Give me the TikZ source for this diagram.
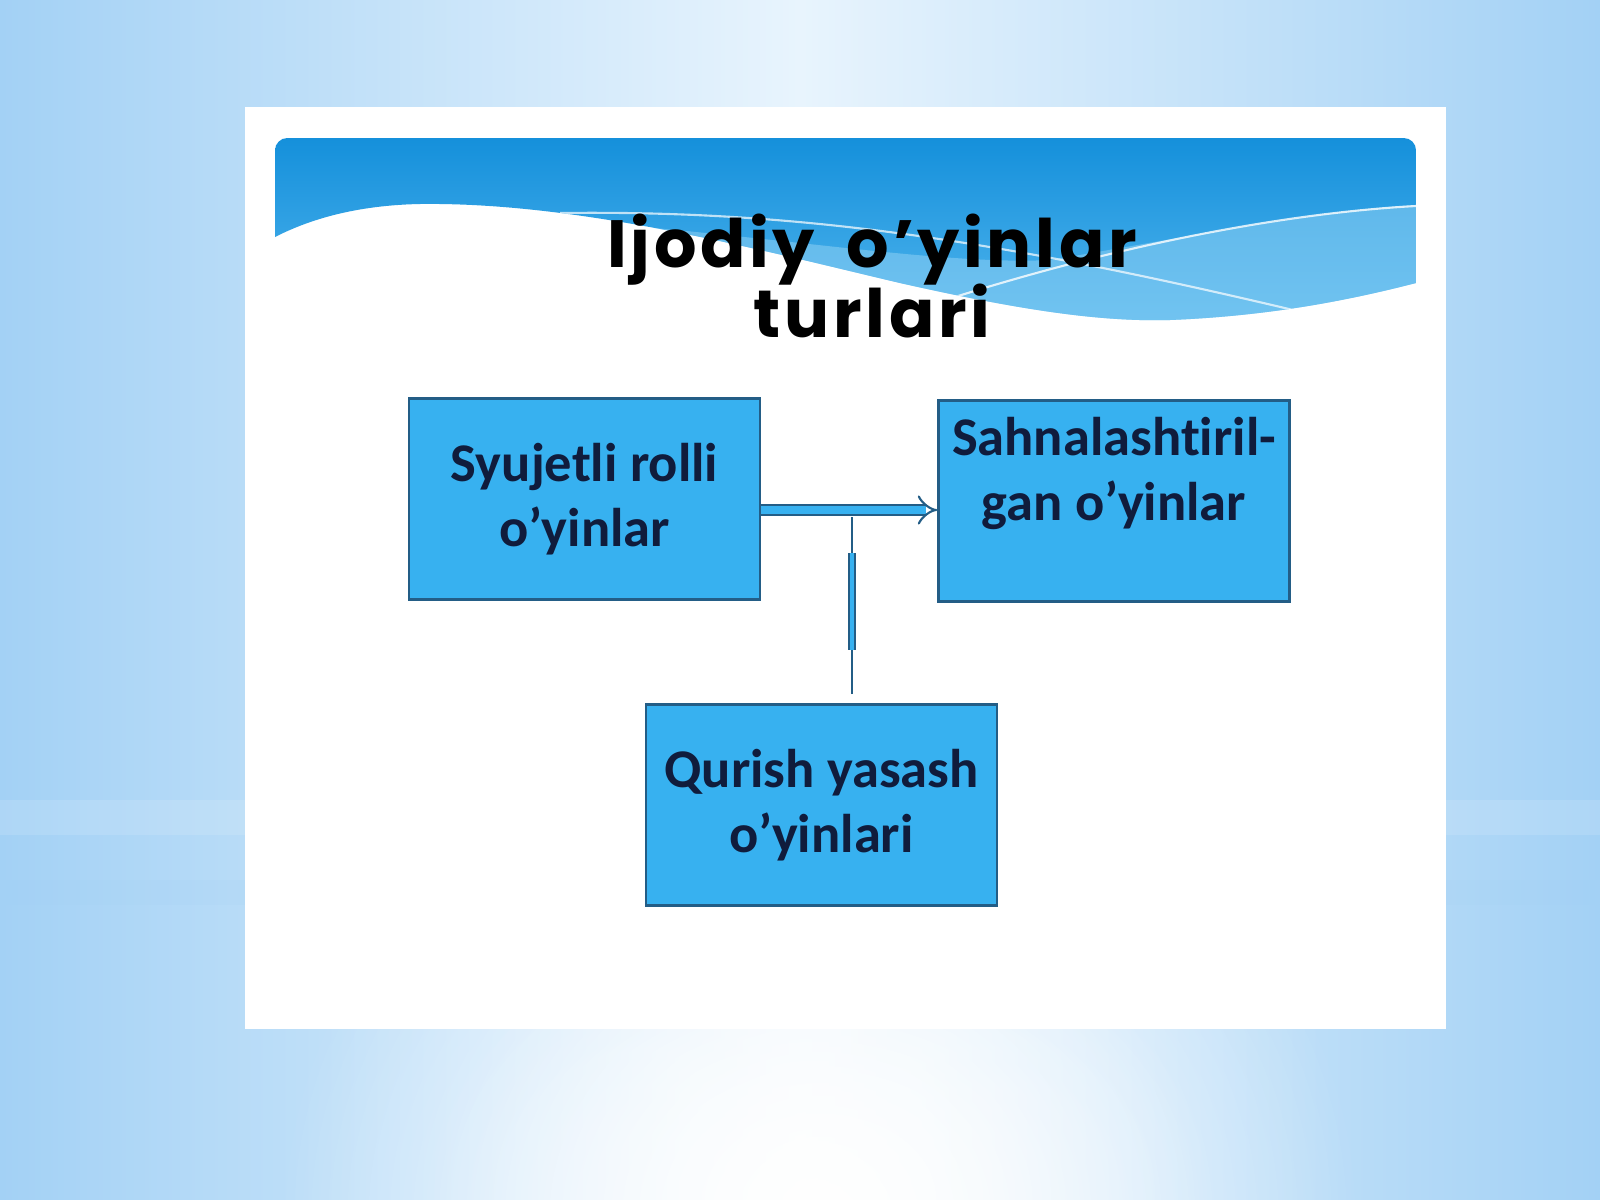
\documentclass[tikz,border=0pt]{standalone}
\usepackage{fontspec}
\setmainfont{Carlito}[RawFeature=-liga]
\newfontfamily\titlefont{Poppins}[LetterSpace=5.5]
\usetikzlibrary{arrows.meta,fadings,calc}
\definecolor{bgedge}{HTML}{A3D1F5}
\definecolor{bgmid}{HTML}{E8F4FD}
\definecolor{bannertop}{HTML}{1590DB}
\definecolor{bannerbot}{HTML}{52B6EE}
\definecolor{lightwave}{HTML}{8DD0F4}
\definecolor{boxfill}{HTML}{37B1F0}
\definecolor{boxdraw}{HTML}{235D86}
\definecolor{textcol}{HTML}{101C3C}
\tikzfading[name=glowfade, inner color=transparent!0, outer color=transparent!100]
\tikzset{
  box/.style={draw=boxdraw, line width=0.7pt, fill=boxfill, text=textcol,
    font=\fontsize{15.5pt}{18.5pt}\selectfont\bfseries, align=center, inner sep=0pt,
    minimum width=3.51cm, minimum height=2.01cm},
  titletext/.style={font=\titlefont\bfseries\fontsize{19pt}{23pt}\selectfont, text=black, anchor=base, inner sep=0pt},
  dblarrow/.style={draw=boxdraw, line width=0.6pt, double=boxfill, double distance=2.3pt, -{Implies}},
  thinline/.style={draw=boxdraw, line width=0.6pt},
  dblseg/.style={draw=boxdraw, line width=0.45pt, double=boxfill, double distance=1.1pt}
}
\begin{document}
\begin{tikzpicture}[x=0.01cm,y=-0.01cm]
\useasboundingbox (0,0) rectangle (1600,1200);
% background
\shade[left color=bgedge, right color=bgedge, middle color=bgmid] (0,0) rectangle (1600,1200);
\fill[white, path fading=glowfade] (820,1220) ellipse (540 and 500);
\fill[white, path fading=glowfade, opacity=0.7] (820,1200) ellipse (400 and 300);
\fill[white, opacity=0.12] (0,800) rectangle (245,835);
\fill[white, opacity=0.12] (1446,800) rectangle (1600,835);
\fill[bgedge, opacity=0.15] (0,880) rectangle (245,905);
\fill[bgedge, opacity=0.15] (1446,880) rectangle (1600,905);
% white slide panel
\fill[white] (245,107) rectangle (1446,1029);
% banner
\begin{scope}
\clip[rounded corners=3.5pt] (275,340) -- (275,138) -- (1416,138) -- (1416,340) -- cycle;
\clip (275,237) .. controls (320,214) and (370,205) .. (420,204)
  .. controls (580,202) and (760,250) .. (900,283)
  .. controls (1020,310) and (1100,322) .. (1170,320)
  .. controls (1270,316) and (1350,300) .. (1416,283) -- (1416,100) -- (275,100) -- cycle;
\shade[top color=bannertop, bottom color=bannerbot] (275,138) rectangle (1416,330);
\fill[lightwave, opacity=0.55] (620,225) .. controls (800,240) and (950,265) .. (1050,260)
  .. controls (1200,235) and (1320,210) .. (1416,205) -- (1416,380) -- (620,380) -- cycle;
\draw[white, opacity=0.8, line width=0.6pt] (880,322) .. controls (1050,262) and (1250,215) .. (1416,206);
\draw[white, opacity=0.7, line width=0.6pt] (560,213) .. controls (800,210) and (1000,240) .. (1310,314);
\end{scope}
% title
\node[titletext] (title1) at (872,267) {Ijodiy\hspace{4pt} o’yinlar};
\node[titletext] (title2) at (872,337) {turlari};
% boxes
\node[box] (b1) at (584.5,499) {Syujetli rolli\\o’yinlar};
\node[box] (b2) at (1114,501) {Sahnalashtiril-\\gan o’yinlar\\\mbox{}};
\node[box] (b3) at (821.5,805) {Qurish yasash\\o’yinlari};
% connectors
\draw[dblarrow] ($(b1.east)+(0,11)$) -- ($(b2.west)+(0,9)$);
\coordinate (vt) at (852,517);
\coordinate (vb) at (852,694);
\coordinate (s1) at (852,553);
\coordinate (s2) at (852,650);
\draw[thinline] (vb) -- (vt);
\draw[dblseg] (s1) -- (s2);
\end{tikzpicture}
\end{document}
